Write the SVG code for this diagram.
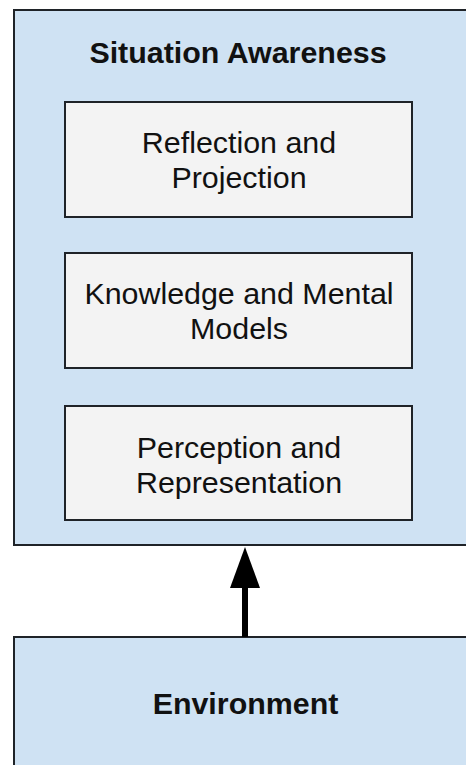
<svg xmlns="http://www.w3.org/2000/svg" width="466" height="765" viewBox="0 0 466 765">
<style>
.outer{fill:#cfe2f3;stroke:#1f2328;stroke-width:2}
.inner{fill:#f3f3f3;stroke:#1f2328;stroke-width:2}
.t{font-family:"Liberation Sans",Arial,sans-serif;font-size:30.4px;fill:#111;text-anchor:middle}
.b{font-weight:bold}
</style>
<defs>
<marker id="ah" markerUnits="userSpaceOnUse" markerWidth="42" markerHeight="30" refX="0" refY="15" orient="auto" viewBox="0 0 42 30">
<polygon points="0,0 41,15 0,30" fill="#000"/>
</marker>
</defs>
<rect width="466" height="765" fill="#ffffff"/>
<g id="situation-awareness">
<rect class="outer" x="14" y="10" width="466" height="535"/>
<text class="t b" x="238" y="63">Situation Awareness</text>
</g>
<g id="reflection">
<rect class="inner" x="65" y="102" width="347" height="115"/>
<text class="t" x="239" y="153">Reflection and</text>
<text class="t" x="239" y="188">Projection</text>
</g>
<g id="knowledge">
<rect class="inner" x="65" y="253" width="347" height="115"/>
<text class="t" x="239" y="304">Knowledge and Mental</text>
<text class="t" x="239" y="339">Models</text>
</g>
<g id="perception">
<rect class="inner" x="65" y="406" width="347" height="114"/>
<text class="t" x="239" y="458">Perception and</text>
<text class="t" x="239" y="493">Representation</text>
</g>
<g id="environment">
<rect class="outer" x="14" y="637" width="466" height="140"/>
<text class="t b" x="245.5" y="714">Environment</text>
</g>
<g id="connectors">
<line x1="245" y1="637" x2="245" y2="588" stroke="#000" stroke-width="6" marker-end="url(#ah)"/>
</g>
</svg>
